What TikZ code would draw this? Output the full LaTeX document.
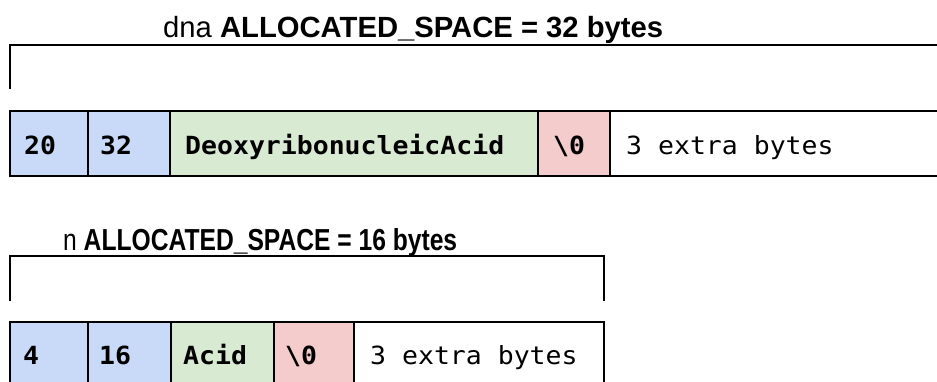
\documentclass[tikz,border=0pt]{standalone}
\usepackage{fontspec}
\usepackage{graphicx}
\setmainfont{Liberation Sans}
\newfontfamily\codefont{DejaVu Sans Mono}
\definecolor{cblue}{HTML}{C9DAF8}
\definecolor{cgreen}{HTML}{D9EAD3}
\definecolor{cred}{HTML}{F4CCCC}
\tikzset{
  cell/.style={draw=black, line width=2pt, anchor=north west, minimum height=65pt, inner sep=0pt, outer sep=0pt},
  txt/.style={anchor=base west, inner sep=0pt, font=\codefont\fontsize{25}{25}\selectfont},
  ttl/.style={anchor=base west, inner sep=0pt, font=\fontsize{24}{24}\selectfont},
  bracket/.style={draw=black, line width=2pt},
}
\newcommand{\codetext}[1]{\scalebox{1.06}[1]{#1}}
\begin{document}
\begin{tikzpicture}[x=1pt,y=-1pt]
\clip (0,0) rectangle (937,381);
\fill[white] (0,0) rectangle (937,381);
% top title
\node[ttl] (t1) at (163,37) {\resizebox{500pt}{!}{dna \textbf{ALLOCATED\_SPACE = 32 bytes}}};
\coordinate (br1a) at (10,89);
\coordinate (br1b) at (10,45);
\coordinate (br1c) at (950,45);
\draw[bracket] (br1a) -- (br1b) -- (br1c);
% top row
\node[cell, fill=cblue, minimum width=78pt] (a1) at (10,111) {};
\node[cell, fill=cblue, minimum width=82pt] (a2) at (88,111) {};
\node[cell, fill=cgreen, minimum width=368pt] (a3) at (170,111) {};
\node[cell, fill=cred, minimum width=72pt] (a4) at (538,111) {};
\node[cell, fill=white, minimum width=360pt] (a5) at (610,111) {};
\node[txt] (ta1) at (24,154) {\codetext{\bfseries 20}};
\node[txt] (ta2) at (100,154) {\codetext{\bfseries 32}};
\node[txt] (ta3) at (185,154) {\codetext{\bfseries DeoxyribonucleicAcid}};
\node[txt] (ta4) at (553,154) {\codetext{\bfseries\textbackslash 0}};
\node[txt] (ta5) at (626,154) {\codetext{3 extra bytes}};
% bottom title
\node[ttl] (t2) at (63,250) {\resizebox{394pt}{22pt}{n \textbf{ALLOCATED\_SPACE = 16 bytes}}};
\coordinate (br2a) at (10,301);
\coordinate (br2b) at (10,256);
\coordinate (br2c) at (604,256);
\coordinate (br2d) at (604,301);
\draw[bracket] (br2a) -- (br2b) -- (br2c) -- (br2d);
% bottom row
\node[cell, fill=cblue, minimum width=78pt] (b1) at (10,322) {};
\node[cell, fill=cblue, minimum width=83pt] (b2) at (88,322) {};
\node[cell, fill=cgreen, minimum width=103pt] (b3) at (171,322) {};
\node[cell, fill=cred, minimum width=80pt] (b4) at (274,322) {};
\node[cell, fill=white, minimum width=250pt] (b5) at (354,322) {};
\node[txt] (tb1) at (23,364) {\codetext{\bfseries 4}};
\node[txt] (tb2) at (99,364) {\codetext{\bfseries 16}};
\node[txt] (tb3) at (183,364) {\codetext{\bfseries Acid}};
\node[txt] (tb4) at (285,364) {\codetext{\bfseries\textbackslash 0}};
\node[txt] (tb5) at (370,364) {\codetext{3 extra bytes}};
\end{tikzpicture}
\end{document}
